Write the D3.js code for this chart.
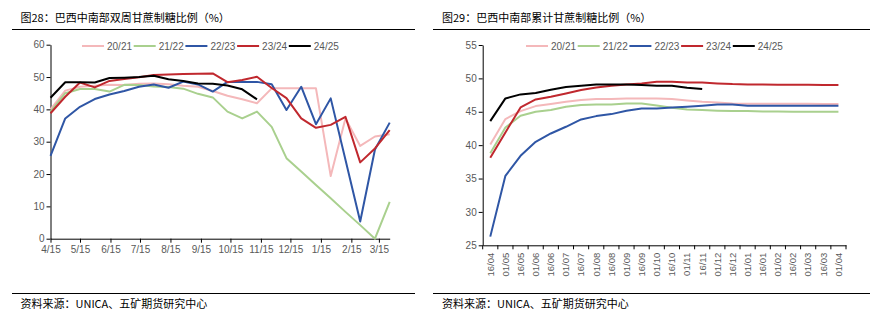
<!DOCTYPE html>
<html><head><meta charset="utf-8">
<script src="https://cdn.jsdelivr.net/npm/d3@7"></script>
<style>
html,body{margin:0;padding:0;background:#fff;}
svg{display:block;}
text{font-family:"Liberation Sans",Arial,sans-serif;}
.cjk{font-family:"Noto Sans CJK SC","Noto Sans",sans-serif;}
</style></head>
<body>
<svg id="chart" width="895" height="331"></svg>
<script>
// ---------- DATA ----------
const seasons = ["20/21","21/22","22/23","23/24","24/25"];
const seasonColors = ["#f4b8ba","#a9d08e","#2f56a5","#c0282e","#000000"];

// Left chart: biweekly sugar mix (%)
const leftDates = ["2022-04-15","2022-04-30","2022-05-15","2022-05-30","2022-06-14","2022-06-29",
  "2022-07-14","2022-07-29","2022-08-13","2022-08-28","2022-09-12","2022-09-27","2022-10-12",
  "2022-10-27","2022-11-11","2022-11-26","2022-12-11","2022-12-26","2023-01-10","2023-01-25",
  "2023-02-09","2023-02-24","2023-03-11","2023-03-26"];
const leftTickDates = ["2022-04-15","2022-05-15","2022-06-15","2022-07-15","2022-08-15","2022-09-15",
  "2022-10-15","2022-11-15","2022-12-15","2023-01-15","2023-02-15","2023-03-15"];
const leftTickLabels = ["4/15","5/15","6/15","7/15","8/15","9/15","10/15","11/15","12/15","1/15","2/15","3/15"];
const leftYTicks = [0,10,20,30,40,50,60];

const biweekly20_21 = [40.0,45.8,47.0,47.3,47.6,47.5,47.9,48.0,47.8,47.3,47.0,45.7,44.2,43.1,41.9,46.5,46.5,46.5,46.5,19.4,37.2,28.7,31.6,32.3];
const biweekly21_22 = [39.3,45.0,46.3,46.3,45.5,47.6,47.5,47.1,46.9,46.4,44.8,43.7,39.3,37.2,39.3,34.6,24.9,20.8,16.6,12.5,8.3,4.2,0,11.4];
const biweekly22_23 = [25.6,37.2,40.8,43.2,44.6,45.7,47.0,47.7,46.7,48.6,47.7,45.5,48.5,48.5,48.5,47.8,39.8,47.0,35.4,43.4,24.4,5.3,27.6,35.9];
const biweekly23_24 = [38.8,43.9,48.3,46.8,48.8,49.4,49.9,50.6,50.8,50.9,51.0,51.1,48.4,49.1,50.1,46.6,43.5,37.2,34.3,35.2,37.7,23.6,27.9,33.6];
const biweekly24_25 = [43.6,48.4,48.4,48.3,49.7,49.8,50.0,50.4,49.3,48.8,48.0,47.9,47.4,46.2,43.1];

// Right chart: cumulative sugar mix (%)
const cumCategories = ["16/04","01/05","16/05","01/06","16/06","01/07","16/07","01/08","16/08","01/09",
  "16/09","01/10","16/10","01/11","16/11","01/12","16/12","01/01","16/01","01/02","16/02","01/03","16/03","01/04"];
const rightYTicks = [25,30,35,40,45,50,55];

const cum20_21 = [40.1,43.9,45.1,45.85,46.15,46.5,46.75,46.9,46.9,47.0,47.0,47.0,46.9,46.7,46.5,46.4,46.25,46.2,46.2,46.2,46.2,46.2,46.15,46.15];
const cum21_22 = [38.8,42.65,44.4,45.0,45.25,45.75,46.0,46.1,46.1,46.25,46.25,45.95,45.6,45.35,45.25,45.15,45.1,45.1,45.05,45.05,45.0,45.0,45.0,45.0];
const cum22_23 = [26.3,35.4,38.4,40.5,41.75,42.75,43.85,44.35,44.65,45.15,45.5,45.5,45.65,45.75,45.9,46.1,46.1,45.9,45.9,45.9,45.9,45.9,45.9,45.9];
const cum23_24 = [38.1,41.9,45.65,46.85,47.25,47.75,48.25,48.65,48.9,49.1,49.25,49.5,49.5,49.4,49.4,49.25,49.15,49.1,49.1,49.05,49.05,49.05,49.0,49.0];
const cum24_25 = [43.6,47.0,47.6,47.8,48.3,48.7,48.9,49.1,49.1,49.1,49.0,48.9,48.9,48.6,48.4];

const titleLeft = "图28：巴西中南部双周甘蔗制糖比例（%）";
const titleRight = "图29：巴西中南部累计甘蔗制糖比例（%）";
const sourceText = "资料来源：UNICA、五矿期货研究中心";

// ---------- DRAW ----------
const svg = d3.select("#chart");
const textGray = "#595959";
const parse = d3.timeParse("%Y-%m-%d");

// headers & footers
function frame(x, lineX0, lineX1, title){
  svg.append("text").attr("class","cjk").attr("x",x).attr("y",21.5)
    .attr("font-size",11).attr("fill","#000").text(title);
  svg.append("line").attr("x1",lineX0).attr("x2",lineX1).attr("y1",29.5).attr("y2",29.5)
    .attr("stroke","#000").attr("stroke-width",1);
  svg.append("line").attr("x1",lineX0).attr("x2",lineX1).attr("y1",293.5).attr("y2",293.5)
    .attr("stroke","#000").attr("stroke-width",1);
  svg.append("text").attr("class","cjk").attr("x",x).attr("y",308)
    .attr("font-size",11).attr("fill","#000").text(sourceText);
}
frame(20.5, 12, 415, titleLeft);
frame(442, 433, 870, titleRight);

function legend(x0, y){
  seasons.forEach((s,i)=>{
    const x = x0 + i*51.7;
    svg.append("line").attr("x1",x).attr("x2",x+22).attr("y1",y).attr("y2",y)
      .attr("stroke",seasonColors[i]).attr("stroke-width",2);
    svg.append("text").attr("x",x+25).attr("y",y+3.6).attr("font-size",10)
      .attr("fill",textGray).text(s);
  });
}

function styleAxis(g){
  g.selectAll(".domain").attr("stroke","#000").attr("stroke-width",1);
  g.selectAll(".tick line").attr("stroke","#000").attr("stroke-width",1);
  g.selectAll(".tick text").attr("fill",textGray).attr("font-size",10)
    .attr("font-family","'Liberation Sans',Arial,sans-serif");
}

// ----- Left chart -----
{
  const x = d3.scaleTime().domain([parse(leftDates[0]), parse(leftDates[leftDates.length-1])]).range([50.5, 389.7]);
  const y = d3.scaleLinear().domain([0,60]).range([238.7, 44.7]);
  const gy = svg.append("g").attr("transform","translate(50.5,0)")
    .call(d3.axisLeft(y).tickValues(leftYTicks).tickSize(4).tickSizeOuter(0).tickPadding(2));
  styleAxis(gy);
  const gx = svg.append("g").attr("transform","translate(0,238.7)")
    .call(d3.axisBottom(x).tickValues(leftTickDates.map(parse)).tickFormat((d,i)=>leftTickLabels[i])
      .tickSize(4).tickSizeOuter(0).tickPadding(3));
  styleAxis(gx);
  const series = [biweekly20_21,biweekly21_22,biweekly22_23,biweekly23_24,biweekly24_25];
  const line = d3.line().x((d,i)=>x(parse(leftDates[i]))).y(d=>y(d));
  series.forEach((vals,si)=>{
    svg.append("path").datum(vals).attr("d",line).attr("fill","none")
      .attr("stroke",seasonColors[si]).attr("stroke-width",2).attr("stroke-linejoin","round");
  });
  legend(82, 46);
}

// ----- Right chart -----
{
  const x = d3.scaleBand().domain(cumCategories).range([482.7, 846]).padding(0);
  const y = d3.scaleLinear().domain([25,55]).range([245.3, 45]);
  const gy = svg.append("g").attr("transform","translate(482.7,0)")
    .call(d3.axisLeft(y).tickValues(rightYTicks).tickSize(4).tickSizeOuter(0).tickPadding(2));
  styleAxis(gy);
  const gx = svg.append("g").attr("transform","translate(0,245.3)")
    .call(d3.axisBottom(x).tickSize(0).tickSizeOuter(0).tickPadding(0));
  styleAxis(gx);
  gx.selectAll(".tick text").attr("font-size",9.5)
    .attr("transform","rotate(-90)").attr("text-anchor","end")
    .attr("x",-7.5).attr("y",0).attr("dy","0.35em");
  // tick marks between categories
  const bounds = cumCategories.map(c=>x(c)).concat([x.range()[1]]);
  gx.selectAll(".btick").data(bounds).join("line").attr("class","btick")
    .attr("x1",d=>d).attr("x2",d=>d).attr("y1",0).attr("y2",4)
    .attr("stroke","#000").attr("stroke-width",1);
  const series = [cum20_21,cum21_22,cum22_23,cum23_24,cum24_25];
  const line = d3.line().x((d,i)=>x(cumCategories[i])+x.bandwidth()/2).y(d=>y(d));
  series.forEach((vals,si)=>{
    svg.append("path").datum(vals).attr("d",line).attr("fill","none")
      .attr("stroke",seasonColors[si]).attr("stroke-width",2).attr("stroke-linejoin","round");
  });
  legend(526, 46);
}
</script>
</body></html>
